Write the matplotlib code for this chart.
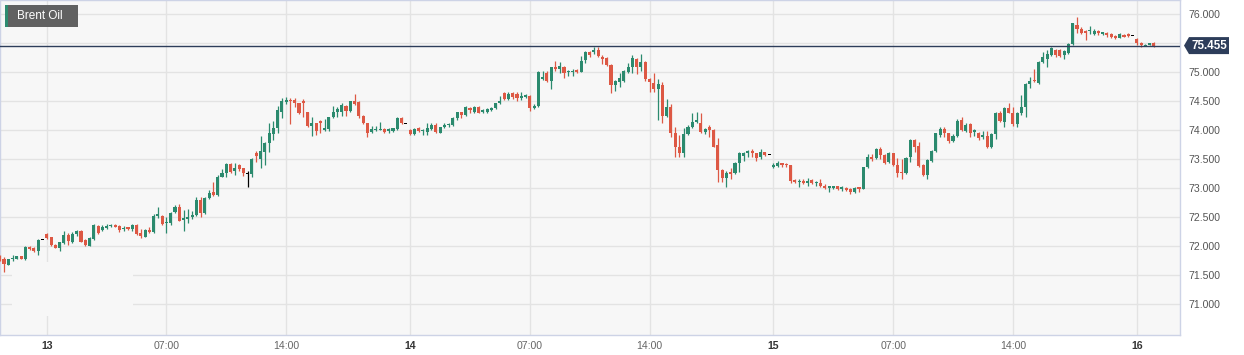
import matplotlib
matplotlib.use('Agg')
import matplotlib.pyplot as plt
from matplotlib.patches import Rectangle, Polygon
import numpy as np

plt.rcParams['font.family'] = ['Liberation Sans', 'DejaVu Sans']

# Brent Oil, 15-minute candles (13th .. 16th)
opens = [71.816, 71.776, 71.678, 71.782, 71.782, 71.822, 71.776, 71.989, 71.966, 71.908,
         72.098, 72.201, 72.149, 72.017, 71.971, 72.046, 72.190, 72.075, 72.207, 72.259,
         72.098, 72.006, 72.115, 72.345, 72.276, 72.305, 72.345, 72.368, 72.345, 72.287,
         72.322, 72.287, 72.362, 72.218, 72.161, 72.276, 72.247, 72.517, 72.517, 72.391,
         72.391, 72.586, 72.678, 72.448, 72.471, 72.494, 72.535, 72.793, 72.563, 72.822,
         72.931, 72.879, 73.195, 73.264, 73.414, 73.293, 73.400, 73.339, 73.236, 73.236,
         73.600, 73.494, 73.626, 73.770, 73.931, 74.029, 74.316, 74.477, 74.520, 74.517,
         74.460, 74.500, 74.305, 74.069, 74.115, 74.160, 74.000, 74.011, 74.218, 74.316,
         74.316, 74.420, 74.333, 74.506, 74.489, 74.241, 74.115, 73.960, 73.994, 74.000,
         74.017, 73.977, 73.989, 74.017, 74.201, 74.103, 73.999, 73.931, 74.029, 73.983,
         73.971, 74.017, 74.086, 73.954, 74.046, 74.080, 74.086, 74.201, 74.305, 74.259,
         74.385, 74.316, 74.402, 74.305, 74.316, 74.345, 74.374, 74.471, 74.632, 74.529,
         74.632, 74.621, 74.550, 74.575, 74.586, 74.385, 74.414, 74.880, 74.989, 74.851,
         75.080, 75.046, 75.092, 74.994, 75.000, 75.034, 75.006, 75.207, 75.350, 75.339,
         75.379, 75.264, 75.236, 75.121, 74.776, 74.833, 74.851, 75.006, 75.080, 75.218,
         75.080, 75.178, 74.874, 74.805, 74.701, 74.776, 74.241, 74.391, 73.943, 73.713,
         73.609, 73.931, 74.057, 74.140, 74.126, 73.971, 74.060, 73.999, 73.741, 73.310,
         73.167, 73.276, 73.253, 73.425, 73.560, 73.598, 73.644, 73.598, 73.529, 73.615,
         73.563, 73.356, 73.379, 73.425, 73.420, 73.397, 73.138, 73.103, 73.126, 73.080,
         73.138, 73.080, 73.092, 73.040, 72.994, 72.999, 73.034, 72.977, 73.000, 72.989,
         72.931, 73.010, 72.989, 73.356, 73.540, 73.511, 73.667, 73.569, 73.454, 73.598,
         73.397, 73.282, 73.253, 73.529, 73.828, 73.724, 73.397, 73.224, 73.471, 73.644,
         73.914, 74.011, 73.943, 73.816, 73.897, 74.172, 73.989, 74.103, 73.970, 73.954,
         73.874, 73.897, 73.701, 73.931, 74.299, 74.144, 74.374, 74.299, 74.103, 74.299,
         74.391, 74.793, 74.860, 74.804, 75.178, 75.218, 75.293, 75.379, 75.379, 75.293,
         75.333, 75.483, 75.810, 75.736, 75.700, 75.700, 75.655, 75.707, 75.655, 75.678,
         75.649, 75.621, 75.592, 75.638, 75.649, 75.621, 75.563, 75.506, 75.450, 75.465,
         75.494]
highs = [71.845, 71.805, 71.782, 71.845, 71.828, 71.828, 72.000, 72.000, 71.977, 72.126,
         72.098, 72.218, 72.161, 72.035, 72.075, 72.264, 72.230, 72.236, 72.276, 72.276,
         72.115, 72.149, 72.379, 72.362, 72.362, 72.379, 72.374, 72.385, 72.362, 72.345,
         72.333, 72.379, 72.379, 72.287, 72.287, 72.333, 72.552, 72.667, 72.535, 72.506,
         72.586, 72.707, 72.724, 72.621, 72.632, 72.609, 72.839, 72.839, 72.839, 72.966,
         73.103, 73.224, 73.322, 73.437, 73.425, 73.425, 73.414, 73.351, 73.299, 73.511,
         73.638, 73.897, 73.799, 74.115, 74.161, 74.414, 74.546, 74.563, 74.546, 74.546,
         74.471, 74.529, 74.316, 74.218, 74.126, 74.172, 74.184, 74.230, 74.414, 74.402,
         74.471, 74.431, 74.506, 74.621, 74.506, 74.259, 74.126, 74.069, 74.069, 74.144,
         74.040, 74.040, 74.040, 74.218, 74.218, 74.103, 74.011, 74.029, 74.046, 74.011,
         74.115, 74.126, 74.115, 74.057, 74.126, 74.115, 74.230, 74.316, 74.316, 74.414,
         74.402, 74.414, 74.414, 74.356, 74.374, 74.402, 74.471, 74.586, 74.661, 74.661,
         74.661, 74.661, 74.650, 74.615, 74.603, 74.448, 75.017, 75.023, 75.023, 75.092,
         75.195, 75.167, 75.103, 75.034, 75.046, 75.046, 75.276, 75.368, 75.360, 75.437,
         75.425, 75.293, 75.253, 75.132, 74.862, 74.977, 75.034, 75.149, 75.293, 75.236,
         75.310, 75.195, 74.891, 74.977, 74.874, 74.833, 74.529, 74.448, 74.057, 73.914,
         74.029, 74.086, 74.287, 74.316, 74.299, 74.029, 74.086, 74.011, 73.856, 73.322,
         73.299, 73.339, 73.454, 73.626, 73.626, 73.655, 73.667, 73.609, 73.667, 73.626,
         73.563, 73.431, 73.460, 73.437, 73.437, 73.397, 73.149, 73.161, 73.161, 73.178,
         73.155, 73.126, 73.161, 73.069, 73.029, 73.040, 73.034, 73.034, 73.011, 73.000,
         73.011, 73.023, 73.368, 73.586, 73.586, 73.684, 73.701, 73.586, 73.626, 73.609,
         73.511, 73.494, 73.529, 73.839, 73.839, 73.799, 73.414, 73.494, 73.655, 73.954,
         74.057, 74.046, 73.954, 73.931, 74.184, 74.218, 74.126, 74.115, 74.011, 73.971,
         73.989, 73.983, 73.954, 74.316, 74.333, 74.391, 74.471, 74.402, 74.316, 74.600,
         74.805, 74.920, 75.046, 75.195, 75.351, 75.379, 75.425, 75.391, 75.391, 75.379,
         75.506, 75.851, 75.954, 75.782, 75.724, 75.793, 75.736, 75.724, 75.695, 75.695,
         75.667, 75.638, 75.667, 75.655, 75.667, 75.621, 75.580, 75.523, 75.483, 75.506,
         75.523]
lows = [71.747, 71.557, 71.667, 71.747, 71.770, 71.770, 71.759, 71.937, 71.897, 71.851,
        72.098, 72.115, 72.000, 71.960, 71.920, 72.035, 72.017, 72.058, 72.172, 72.063,
        72.006, 72.000, 72.103, 72.207, 72.259, 72.287, 72.333, 72.322, 72.247, 72.264,
        72.276, 72.264, 72.184, 72.132, 72.149, 72.218, 72.230, 72.483, 72.356, 72.230,
        72.356, 72.575, 72.425, 72.264, 72.402, 72.460, 72.517, 72.494, 72.552, 72.810,
        72.862, 72.862, 73.184, 73.195, 73.253, 73.224, 73.299, 73.213, 73.011, 73.184,
        73.443, 73.339, 73.397, 73.626, 73.828, 73.943, 74.201, 74.448, 74.098, 74.391,
        74.276, 74.230, 74.057, 73.902, 73.914, 73.943, 73.989, 73.989, 74.201, 74.218,
        74.241, 74.241, 74.316, 74.431, 74.201, 74.098, 73.885, 73.943, 73.989, 74.000,
        73.943, 73.954, 73.966, 73.999, 74.098, 74.103, 73.908, 73.914, 73.971, 73.908,
        73.908, 73.999, 73.954, 73.943, 74.029, 74.057, 74.069, 74.172, 74.201, 74.241,
        74.287, 74.299, 74.287, 74.299, 74.299, 74.333, 74.356, 74.443, 74.517, 74.517,
        74.529, 74.506, 74.525, 74.560, 74.333, 74.356, 74.402, 74.862, 74.833, 74.701,
        75.023, 74.989, 74.891, 74.937, 74.931, 74.989, 74.994, 75.149, 75.253, 75.310,
        75.253, 75.138, 75.103, 74.644, 74.678, 74.747, 74.833, 74.977, 74.977, 74.966,
        75.023, 74.851, 74.661, 74.661, 74.172, 74.115, 74.218, 73.885, 73.529, 73.540,
        73.529, 73.914, 74.029, 74.115, 73.954, 73.931, 73.885, 73.701, 73.109, 73.109,
        73.011, 73.149, 73.241, 73.282, 73.471, 73.529, 73.529, 73.471, 73.494, 73.552,
        73.563, 73.351, 73.356, 73.356, 73.368, 73.092, 73.080, 73.023, 73.063, 73.034,
        73.070, 73.034, 73.011, 72.977, 72.937, 72.986, 72.966, 72.954, 72.954, 72.897,
        72.920, 72.931, 72.977, 73.339, 73.471, 73.494, 73.494, 73.414, 73.437, 73.379,
        73.184, 73.149, 73.241, 73.454, 73.626, 73.356, 73.207, 73.149, 73.454, 73.626,
        73.885, 73.874, 73.770, 73.799, 73.885, 73.989, 73.971, 73.874, 73.897, 73.828,
        73.839, 73.684, 73.684, 73.839, 74.144, 74.046, 74.287, 74.069, 74.057, 74.259,
        74.218, 74.718, 74.825, 74.793, 75.161, 75.092, 75.276, 75.253, 75.253, 75.230,
        75.310, 75.465, 75.678, 75.655, 75.551, 75.655, 75.638, 75.638, 75.638, 75.609,
        75.592, 75.563, 75.580, 75.598, 75.609, 75.621, 75.465, 75.437, 75.440, 75.460,
        75.425]
closes = [71.759, 71.690, 71.770, 71.799, 71.822, 71.782, 71.989, 71.954, 71.908, 72.103,
          72.098, 72.132, 72.017, 71.971, 72.063, 72.190, 72.092, 72.207, 72.259, 72.075,
          72.017, 72.132, 72.362, 72.218, 72.333, 72.345, 72.362, 72.333, 72.276, 72.310,
          72.287, 72.362, 72.201, 72.172, 72.276, 72.241, 72.517, 72.546, 72.374, 72.420,
          72.575, 72.667, 72.437, 72.489, 72.494, 72.535, 72.793, 72.575, 72.822, 72.920,
          72.874, 73.195, 73.264, 73.414, 73.282, 73.351, 73.330, 73.253, 73.236, 73.500,
          73.550, 73.644, 73.770, 73.943, 74.029, 74.345, 74.506, 74.517, 74.500, 74.460,
          74.299, 74.460, 74.069, 74.115, 73.989, 74.120, 74.029, 74.218, 74.316, 74.356,
          74.431, 74.333, 74.494, 74.443, 74.241, 74.115, 73.954, 74.017, 74.017, 74.020,
          73.966, 74.017, 74.029, 74.213, 74.115, 74.103, 73.925, 74.017, 73.983, 74.000,
          74.029, 74.086, 73.971, 74.046, 74.086, 74.098, 74.201, 74.305, 74.259, 74.391,
          74.345, 74.391, 74.299, 74.345, 74.356, 74.385, 74.460, 74.500, 74.529, 74.621,
          74.563, 74.546, 74.580, 74.603, 74.380, 74.414, 74.994, 74.920, 74.851, 75.080,
          75.046, 75.103, 74.989, 75.023, 75.020, 75.000, 75.195, 75.339, 75.300, 75.379,
          75.276, 75.230, 75.121, 74.776, 74.845, 74.891, 75.023, 75.092, 75.236, 75.080,
          75.178, 74.874, 74.833, 74.701, 74.793, 74.241, 74.391, 73.943, 73.713, 73.598,
          73.931, 74.057, 74.144, 74.170, 73.971, 74.011, 74.000, 73.713, 73.310, 73.167,
          73.253, 73.241, 73.437, 73.598, 73.600, 73.638, 73.598, 73.511, 73.626, 73.569,
          73.563, 73.388, 73.431, 73.391, 73.390, 73.118, 73.109, 73.126, 73.092, 73.126,
          73.092, 73.100, 73.034, 72.997, 73.026, 73.034, 72.977, 73.011, 72.966, 72.937,
          73.000, 72.980, 73.356, 73.540, 73.494, 73.667, 73.569, 73.437, 73.598, 73.397,
          73.264, 73.253, 73.511, 73.828, 73.713, 73.379, 73.224, 73.483, 73.644, 73.943,
          74.011, 73.943, 73.816, 73.897, 74.161, 73.999, 74.086, 73.943, 74.000, 73.856,
          73.914, 73.701, 73.931, 74.299, 74.161, 74.374, 74.299, 74.103, 74.299, 74.391,
          74.793, 74.848, 74.840, 75.178, 75.253, 75.310, 75.408, 75.293, 75.276, 75.368,
          75.483, 75.839, 75.736, 75.667, 75.680, 75.720, 75.713, 75.667, 75.684, 75.638,
          75.609, 75.580, 75.649, 75.609, 75.621, 75.621, 75.494, 75.465, 75.470, 75.494,
          75.455]

tick_pos = [11, 39, 67, 96, 124, 152, 181, 209, 237, 266]
tick_labels = ['13', '07:00', '14:00', '14', '07:00', '14:00', '15', '07:00', '14:00', '16']
day_labels = ['13', '14', '15', '16']
y_ticks = [71.0, 71.5, 72.0, 72.5, 73.0, 73.5, 74.0, 74.5, 75.0, 75.5, 76.0]

GREEN = '#2b8a6e'
RED = '#dd5844'
BG = '#f7f7f7'

o = np.array(opens)
h = np.array(highs)
l = np.array(lows)
c = np.array(closes)
idx = np.arange(len(o))

colors = np.where(c > o, GREEN, np.where(c < o, RED, '#000000'))

fig = plt.figure(figsize=(12.44, 3.55), dpi=100)
ax = fig.add_axes([0, 20 / 355, 1180 / 1244, 335 / 355])
ax.set_facecolor(BG)

# wicks + bodies
ax.vlines(idx, l, h, colors=colors, lw=0.9, zorder=3)
body_lo = np.minimum(o, c)
body_h = np.maximum(np.abs(c - o), 0.016)
ax.bar(idx, body_h, bottom=body_lo, width=0.72, color=colors, linewidth=0, zorder=4)

ax.set_xlim(0.06, 276.1)
ax.set_ylim(70.466, 76.241)

# grid
ax.set_axisbelow(True)
ax.set_yticks(y_ticks)
ax.set_xticks(tick_pos)
ax.grid(True, color='#e3e3e3', lw=1.0)

# blank patch bottom-left (hidden legend area)
ax.add_patch(Rectangle((12 / 1180, 19 / 335), 121 / 1180, 54 / 335, transform=ax.transAxes,
                       facecolor=BG, edgecolor='none', zorder=1))

for s in ax.spines.values():
    s.set_color('#cdd3e6')
    s.set_linewidth(1.0)

last = closes[-1]

# the 75.500 label sits under the price tag
ax.yaxis.tick_right()
ax.set_yticklabels(['' if abs(v - last) < 0.15 else '%.3f' % v for v in y_ticks])
ax.tick_params(axis='y', length=0, pad=6, labelsize=7.6, labelcolor='#555555')
ax.set_xticklabels(tick_labels)
ax.tick_params(axis='x', length=0, pad=4, labelsize=7.6, labelcolor='#666666')
for t in ax.get_xticklabels():
    if t.get_text() in day_labels:
        t.set_fontweight('bold')
        t.set_color('#333333')

# last price line and tag
ax.axhline(last, color='#2d3d5a', lw=1.0, zorder=5)
fig.canvas.draw()
y0 = ax.transData.transform((0, last))[1]
x1 = ax.bbox.x1
tag = Polygon([(x1 + 4, y0), (x1 + 9, y0 + 8.5), (x1 + 49, y0 + 8.5),
               (x1 + 49, y0 - 8.5), (x1 + 9, y0 - 8.5)], closed=True,
              transform=None, facecolor='#2d3d5a', edgecolor='none', zorder=10)
fig.add_artist(tag)
fig.text((x1 + 29) / 1244, y0 / 355, '%.3f' % last, color='white', fontsize=8.4,
         fontweight='bold', ha='center', va='center', zorder=11)

# title box
fig.add_artist(Rectangle((5 / 1244, 1 - 27 / 355), 73 / 1244, 22 / 355, transform=fig.transFigure,
                         facecolor='#616161', edgecolor='none', zorder=10))
fig.add_artist(Rectangle((5 / 1244, 1 - 27 / 355), 2.5 / 1244, 22 / 355, transform=fig.transFigure,
                         facecolor='#2e8b70', edgecolor='none', zorder=11))
fig.text(17 / 1244, 1 - 16 / 355, 'Brent Oil', color='white', fontsize=8.5,
         ha='left', va='center', zorder=12)

fig.savefig('out.png', dpi=100, facecolor='white')
